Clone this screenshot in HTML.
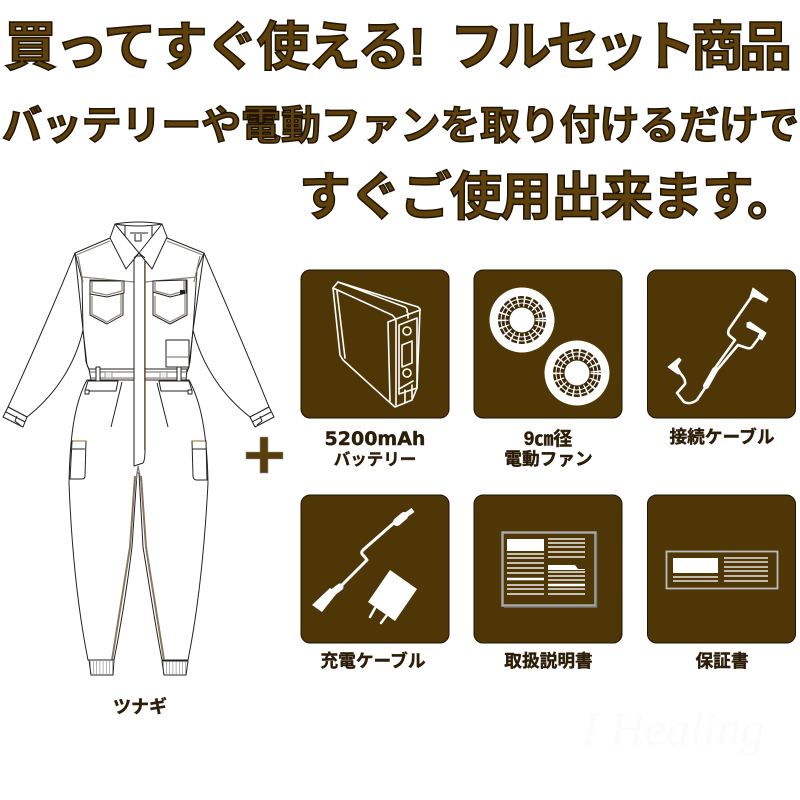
<!DOCTYPE html>
<html lang="ja"><head><meta charset="utf-8"><title>フルセット商品</title>
<style>
html,body{margin:0;padding:0;background:#fff}
svg{display:block}
text{font-family:"Liberation Sans","Noto Sans CJK JP",sans-serif;font-weight:700}
.h{fill:#5d400b;stroke:#1f1302;stroke-width:1.500;font-weight:700}
.l{fill:#2b1d08;stroke:#2b1d08;stroke-width:.4;font-size:17.7px;text-anchor:middle}
.o{fill:#fff;stroke:#222;stroke-width:1;stroke-linejoin:round}
.n{fill:none;stroke:#222;stroke-width:1;stroke-linejoin:round}
.g{fill:none;stroke:#8d8578;stroke-width:1.2}
.c{fill:#4f3607;stroke:#1d1303;stroke-width:1}
.w{fill:none;stroke:#fff;stroke-linejoin:round;stroke-linecap:round}
</style></head><body>
<svg width="800" height="800" viewBox="0 0 800 800" xmlns="http://www.w3.org/2000/svg">
<rect width="800" height="800" fill="#fff"/>

<!-- headings -->
<text class="h" x="4" y="65" font-size="53" textLength="422" lengthAdjust="spacing">買ってすぐ使える!</text>
<text class="h" x="450" y="65" font-size="53" textLength="342" lengthAdjust="spacing">フルセット商品</text>
<text class="h" x="2" y="139" font-size="40" textLength="797" lengthAdjust="spacing">バッテリーや電動ファンを取り付けるだけで</text>
<text class="h" x="299" y="215" font-size="52" textLength="500" lengthAdjust="spacing">すぐご使用出来ます。</text>

<!-- coverall: sleeves -->
<path class="o" d="M75 253C60 290 30 360 8 407L27 417C55 395 75 365 83 330Z"/>
<path class="o" d="M204 253C220 290 250 360 269 407L250 417C222 395 202 365 193 330Z"/>
<path class="o" d="M8 407L27 417L23 427L3 417Z"/>
<path class="o" d="M269 407L250 417L255 427L274 417Z"/>
<path class="n" d="M6 412L25 422M271 412L252 422M17 416L15 421L20 425M260 416L262 421L257 425"/>

<!-- coverall: trousers -->
<path class="o" d="M87 380C76 400 70 430 69 483C72 560 80 620 88 660H114C122 620 128 580 132 547L137 473H139L143 547C150 590 156 630 162 660H188C196 620 204 560 208 483C207 430 200 400 189 380Z"/>
<path fill="none" stroke="#85765c" stroke-width="2" d="M112 660L130 547L135 476M164 660L146 547L141 476"/>
<path class="n" d="M122 382L111 427M157 383L168 427"/>
<path class="o" d="M88 381H118L116 391H85Z"/>
<path class="o" d="M159 381H189L192 391H161Z"/>
<rect class="o" x="85" y="390" width="4" height="4"/>
<rect class="o" x="188" y="390" width="4" height="4"/>
<!-- side pockets -->
<path class="o" d="M72 441H86L85 476Q85 479 82 479H70Z"/>
<path class="n" d="M72 449H85"/>
<path class="o" d="M192 441H206L207 480H196Q193 479 193 476Z"/>
<path class="n" d="M192 449H206"/>
<path stroke="#9a6a2a" stroke-width="1" d="M73 441H86M192 441H205"/>
<!-- cuffs -->
<path class="o" d="M89 660H114L113 675H91Z"/>
<path class="o" d="M162 661H188L186 675H164Z"/>
<path fill="none" stroke="#333" stroke-width="13" stroke-dasharray=".6 2.600" d="M90 667.500H113M163 667.500H187" opacity=".6"/>

<!-- coverall: torso -->
<path class="o" d="M75 253L110 238H167L204 253L197 270L193 330L189 367L187 372H90L87 365L83 330L82 280Z"/>
<path class="g" d="M76 255L110 241M203 255L167 241M78 256L83 282M200 256L194 282" stroke-width="1.600"/>
<path class="g" stroke-width="1.600" d="M82 277L134 282M145 282L197 277"/>
<path class="n" d="M83 330L86 362L90 372M193 330L190 362L187 372"/>
<!-- chest pockets -->
<path class="o" d="M90 280V315L107 324L123 315V281Z"/>
<path class="g" d="M92 296V314L107 322L121 314V294"/>
<path class="o" d="M90 281V294L107 297L124 293V281Z"/>
<path class="g" d="M92 281V292L107 295L122 291V281"/>
<path class="o" d="M153 281V315L170 324L187 315V280Z"/>
<path class="g" d="M155 296V314L170 322L185 314V294"/>
<path class="o" d="M153 281V292L170 297L186 293V280Z"/>
<path class="g" d="M155 281V291L170 295L184 291V281"/>
<rect x="180" y="290" width="5" height="4" fill="#222"/>
<!-- pen pocket -->
<rect class="o" x="166" y="340" width="23" height="27"/>
<path class="g" d="M167 357H188"/>
<!-- belt -->
<path class="o" d="M89 369H187L186 380H91Z"/>
<path class="g" d="M90 372H186M91 378H186"/>
<rect class="o" x="96" y="367" width="4" height="14"/>
<rect class="o" x="177" y="367" width="4" height="14"/>
<rect x="105" y="372" width="7" height="6" fill="#eee" stroke="#888" stroke-width=".8"/>
<rect x="160" y="372" width="7" height="6" fill="#eee" stroke="#888" stroke-width=".8"/>
<!-- placket -->
<path class="o" stroke-width="1.300" d="M134 256H145V450Q145 460 143 463L134 466Z"/>
<path fill="none" stroke="#8a5d20" stroke-width=".9" d="M144.500 262V450"/>
<path fill="none" stroke="#777" stroke-width="1.200" d="M136 481L138 466L141 481"/>
<!-- collar -->
<path class="o" d="M115 224Q139 220 162 224L167 237L152 269L139 253L126 269L110 238Z"/>
<path class="o" d="M115 224Q139 228 162 224L139 253Z" style="fill:#fff"/>
<path class="n" d="M125 226V236M152 226V236M130 233H148M135 234V241H141V234" stroke="#444"/>
<path class="n" d="M139 253L134 258M139 253L145 258"/>

<!-- plus -->
<path d="M246 452H260V437H268V452H283V459H268V473H260V459H246Z" fill="#5a3d0a" stroke="#8a97a0" stroke-width=".6"/>

<!-- cards -->
<rect class="c" x="301" y="270" width="148" height="148" rx="9"/>
<rect class="c" x="474" y="270" width="148" height="148" rx="9"/>
<rect class="c" x="647.500" y="270" width="148" height="148" rx="9"/>
<rect class="c" x="301" y="495" width="148" height="148" rx="9"/>
<rect class="c" x="474" y="495" width="148" height="148" rx="9"/>
<rect class="c" x="647.500" y="495" width="148" height="148" rx="9"/>

<!-- battery -->
<g class="w" stroke-width="1.600">
<path d="M333 288L338 282L418 307L420 309L417 388L412 400L395 407L387 400L343 360L340 355Z"/>
<path d="M333 288L392 315Q396 318 396 322M337 291L345 358M388 322L390 401M388 322L420 310M396 322V405M408 313V318"/>
<path d="M338 282L405 307Q408 309 407 312"/>
<path d="M399 325L417 318V388L399 394Z"/>
<circle cx="407" cy="331" r="4"/>
<path d="M402 345L412 341V363L402 367Z"/>
<circle cx="407" cy="373" r="4"/>
<path d="M399 389L413 381M405 390V403M412 385V398"/>
</g>

<!-- fans -->
<g>
<circle cx="522" cy="320" r="32.500" fill="#fff"/>
<circle cx="522" cy="320" r="24" fill="#3a2708"/>
<circle cx="522" cy="320" r="21" fill="none" stroke="#fff" stroke-width="1"/>
<circle cx="522" cy="320" r="17" fill="none" stroke="#fff" stroke-width="1"/>
<circle cx="522" cy="320" r="19" fill="none" stroke="#fff" stroke-width="11" stroke-dasharray="1.500 5"/>
<circle cx="522" cy="320" r="12.500" fill="#fff"/>
<circle cx="577" cy="373" r="32.500" fill="#fff"/>
<circle cx="577" cy="373" r="24" fill="#3a2708"/>
<circle cx="577" cy="373" r="21" fill="none" stroke="#fff" stroke-width="1"/>
<circle cx="577" cy="373" r="17" fill="none" stroke="#fff" stroke-width="1"/>
<circle cx="577" cy="373" r="19" fill="none" stroke="#fff" stroke-width="11" stroke-dasharray="1.500 5"/>
<circle cx="577" cy="373" r="12.500" fill="#fff"/>
</g>

<!-- connecting cable -->
<g class="w" stroke-width="2.600">
<path d="M752 296L729 329Q727 334 730 336L735 340L715 368L705 388L697 400Q690 405 684 402L677 393L685 384Q686 379 680 373"/>
<path d="M758 339L752 347Q750 349 747 348L738 345L717 370"/>
<path stroke-width="6" d="M715 370L706 386"/>
</g>
<g fill="#fff" stroke="#fff" stroke-width="1" stroke-linejoin="round">
<path d="M750 297L753 288L768 299L766 302L755 297Z"/>
<path d="M747 323L750 322L766 333L762 340L758 337L760 333L747 327Z"/>
<path d="M668 367L679 358L681 360L677 366L681 373L678 374Z"/>
</g>

<!-- charge cable -->
<g class="w" stroke-width="3">
<path d="M403 515L363 550Q360 553 364 556L367 560L340 587"/>
<path stroke-width="5" stroke-linecap="butt" d="M413 510L406 515"/>
<path stroke-width="8" d="M404 516L397 522"/>
<path stroke-width="7" d="M340 587L332 593"/>
</g>
<path d="M312 605L330 588L337 593L322 612Z" fill="#fff"/>
<path d="M390 570L417 589L395 621L368 602Z" fill="#fff"/>
<path class="w" stroke-width="2.500" stroke-linecap="butt" d="M375 608L370 617M387 615L381 623"/>

<!-- manual -->
<rect x="502.500" y="532.500" width="93" height="73" fill="none" stroke="#aaa" stroke-width="2.400"/>
<path d="M596.500 534V607H504" fill="none" stroke="#777" stroke-width="1.500"/>
<rect x="507" y="539" width="37" height="12" fill="#fff"/>
<path stroke="#d9d4c8" stroke-width="1.700" fill="none" d="M507 554H544M507 558H544M507 563H544M507 568H544M507 573H544M507 585H544M507 589H544M507 594H544M548 539H585M548 543H585M548 547H585M548 552H585M548 557H585M548 572H585M548 576H585M548 580H585M548 589H585M548 594H585"/>
<path stroke="#fff" stroke-width="2.500" fill="none" d="M507 579H544M548 585H585"/>
<path d="M548 565H575L578 569H585V570H548Z" fill="#fff"/>

<!-- warranty -->
<rect x="666.500" y="551.500" width="111" height="37" fill="none" stroke="#bbb" stroke-width="1.800"/>
<rect x="673" y="558" width="45" height="15" fill="#fff"/>
<path stroke="#d0cbc0" stroke-width="1.700" fill="none" d="M673 577H718M673 581H718M724 558H768M724 562H768M724 567H768M724 571H768M724 576H768M724 581H768"/>

<!-- labels -->
<text class="l" x="375" y="445" style="font-family:'DejaVu Sans',sans-serif;font-size:19px">5200mAh</text>
<text class="l" x="375" y="465" style="font-size:16.500px">バッテリー</text>
<text class="l" x="548" y="445" style="font-size:19px">9㎝径</text>
<text class="l" x="548.500" y="465">電動ファン</text>
<text class="l" x="722" y="443">接続ケーブル</text>
<text class="l" x="373" y="667">充電ケーブル</text>
<text class="l" x="548.500" y="667">取扱説明書</text>
<text class="l" x="722" y="667">保証書</text>
<text class="l" x="140" y="713" style="font-size:18px">ツナギ</text>

<!-- watermark -->
<text x="582" y="745" font-size="48" style="font-family:'Liberation Serif',serif;font-style:italic;font-weight:400;fill:#fbfbfb">I Healing</text>
</svg>
</body></html>
